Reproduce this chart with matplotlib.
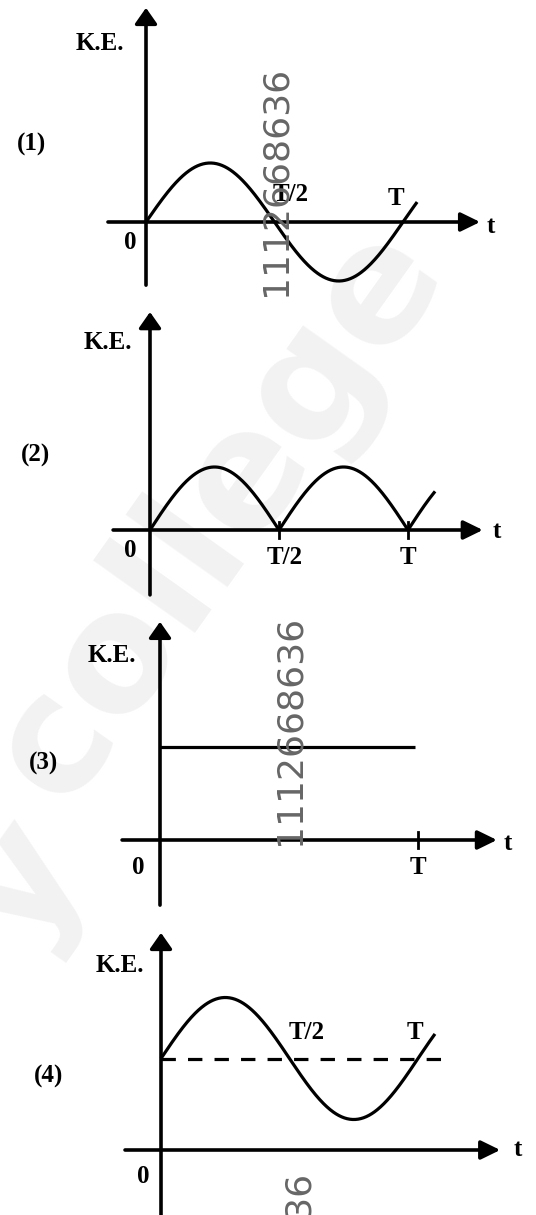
import numpy as np
import matplotlib
matplotlib.use("Agg")
import matplotlib.pyplot as plt

W, H, DPI = 536, 1215, 100

# ---- data (t in units of the period T, K.E. in arbitrary units) ----
panel_ids = ["(1)", "(2)", "(3)", "(4)"]
t_end = [1.055, 1.105, 0.988, 1.066]          # where each drawn curve stops
ke_amp = [1.0, 1.0, 0.0, 1.0]                 # oscillation amplitude
ke_mean = [0.0, 0.0, 1.5, 1.5]                # constant / mean level
tick_labels = [["T/2", "T"], ["T/2", "T"], ["T"], ["T/2", "T"]]
tick_pos = [[0.5, 1.0], [0.5, 1.0], [1.0], [0.5, 1.0]]

# ---- layout per panel: origin pixel, pixels per T, pixels per KE unit ----
layout = [
    dict(x0=146, y0=222, LT=257, s=59,
         xax=(-0.148, 1.30), yax=(-1.07, 3.63),
         ke_lab=(-0.179, 3.02), id_lab=(-0.447, 1.31), zero=(-0.062, -0.34),
         tick_lab=[(0.564, 0.46), (0.973, 0.39)], t_lab=(1.34, -0.07)),
    dict(x0=150, y0=530, LT=258, s=63,
         xax=(-0.143, 1.29), yax=(-1.03, 3.46),
         ke_lab=(-0.163, 2.98), id_lab=(-0.442, 1.19), zero=(-0.078, -0.33),
         tick_lab=[(0.523, -0.43), (1.0, -0.43)], t_lab=(1.345, -0.03)),
    dict(x0=160, y0=840, LT=258, s=62,
         xax=(-0.147, 1.306), yax=(-1.05, 3.52),
         ke_lab=(-0.186, 2.98), id_lab=(-0.453, 1.24), zero=(-0.085, -0.45),
         tick_lab=[(1.0, -0.45)], t_lab=(1.35, -0.05)),
    dict(x0=161, y0=1150, LT=257, s=61,
         xax=(-0.14, 1.32), yax=(-1.2, 3.56),
         ke_lab=(-0.16, 3.03), id_lab=(-0.436, 1.2), zero=(-0.07, -0.44),
         tick_lab=[(0.568, 1.93), (0.988, 1.93)], t_lab=(1.39, 0.0)),
]

fig = plt.figure(figsize=(W / DPI, H / DPI), dpi=DPI)
fig.patch.set_facecolor("white")

# background axes holding the faint watermark (drawn beneath everything)
bg = fig.add_axes([0, 0, 1, 1], zorder=-10)
bg.set_xlim(0, W)
bg.set_ylim(H, 0)
bg.axis("off")
bg.text(218, 513, "college", rotation=54.6, ha="center", va="center",
        fontsize=118, fontweight="bold", color="#f2f2f2", family="DejaVu Sans",
        clip_on=True)
bg.text(22, 885, "y", rotation=54.6, ha="center", va="center",
        fontsize=118, fontweight="bold", color="#f2f2f2", family="DejaVu Sans",
        clip_on=True)

SERIF = "Liberation Serif"
FS = 18
LW_AX = 2.6
LW_C = 2.3

for i, L in enumerate(layout):
    ax = fig.add_axes([0, 0, 1, 1], zorder=i + 1)
    ax.set_xlim((0 - L["x0"]) / L["LT"], (W - L["x0"]) / L["LT"])
    ax.set_ylim((L["y0"] - H) / L["s"], L["y0"] / L["s"])
    ax.axis("off")
    ax.patch.set_alpha(0)

    # axes with filled arrow heads
    ax.annotate("", xy=(L["xax"][1], 0), xytext=(L["xax"][0], 0),
                arrowprops=dict(arrowstyle="-|>,head_length=0.45,head_width=0.22",
                                lw=LW_AX, color="black",
                                mutation_scale=26, shrinkA=0, shrinkB=0),
                annotation_clip=False)
    ax.annotate("", xy=(0, L["yax"][1]), xytext=(0, L["yax"][0]),
                arrowprops=dict(arrowstyle="-|>,head_length=0.4,head_width=0.28",
                                lw=LW_AX, color="black",
                                mutation_scale=24, shrinkA=0, shrinkB=0),
                annotation_clip=False)

    # curve
    t = np.linspace(0, t_end[i], 500)
    if i == 0:
        ke = ke_mean[i] + ke_amp[i] * np.sin(2 * np.pi * t)
    elif i == 1:
        ke = ke_mean[i] + ke_amp[i] * np.abs(np.sin(2 * np.pi * t))
    elif i == 2:
        ke = np.full_like(t, ke_mean[i])
    else:
        ke = ke_mean[i] + ke_amp[i] * np.sin(2 * np.pi * t)
        ax.plot([0, 1.117], [ke_mean[i], ke_mean[i]], ls=(0, (4.5, 3.8)),
                lw=LW_C, color="black")
    ax.plot(t, ke, color="black", lw=LW_C, solid_capstyle="butt", zorder=3)

    # small tick marks on the time axis
    if i in (1, 2):
        for tp in tick_pos[i]:
            ax.plot([tp, tp], [-0.13, 0.13], color="black", lw=2.0)

    # texts
    ax.text(*L["ke_lab"], "K.E.", ha="center", va="center", fontsize=FS,
            fontweight="bold", family=SERIF)
    ax.text(*L["id_lab"], panel_ids[i], ha="center", va="center", fontsize=FS,
            fontweight="bold", family=SERIF)
    ax.text(*L["zero"], "0", ha="center", va="center", fontsize=FS,
            fontweight="bold", family=SERIF)
    for lab, pos in zip(tick_labels[i], L["tick_lab"]):
        ax.text(*pos, lab, ha="center", va="center", fontsize=FS,
                fontweight="bold", family=SERIF)
    ax.text(*L["t_lab"], "t", ha="center", va="center", fontsize=FS,
            fontweight="bold", family=SERIF)

# grey numeric watermark on top
for (px, py) in [(275, 181), (290, 730), (298, 1285)]:
    fig.text(px / W, 1 - py / H, "1112668636", rotation=90, ha="center",
             va="center", fontsize=26, color="#666666", family="DejaVu Sans",
             zorder=20)

fig.savefig("out.png", dpi=DPI, facecolor="white")
